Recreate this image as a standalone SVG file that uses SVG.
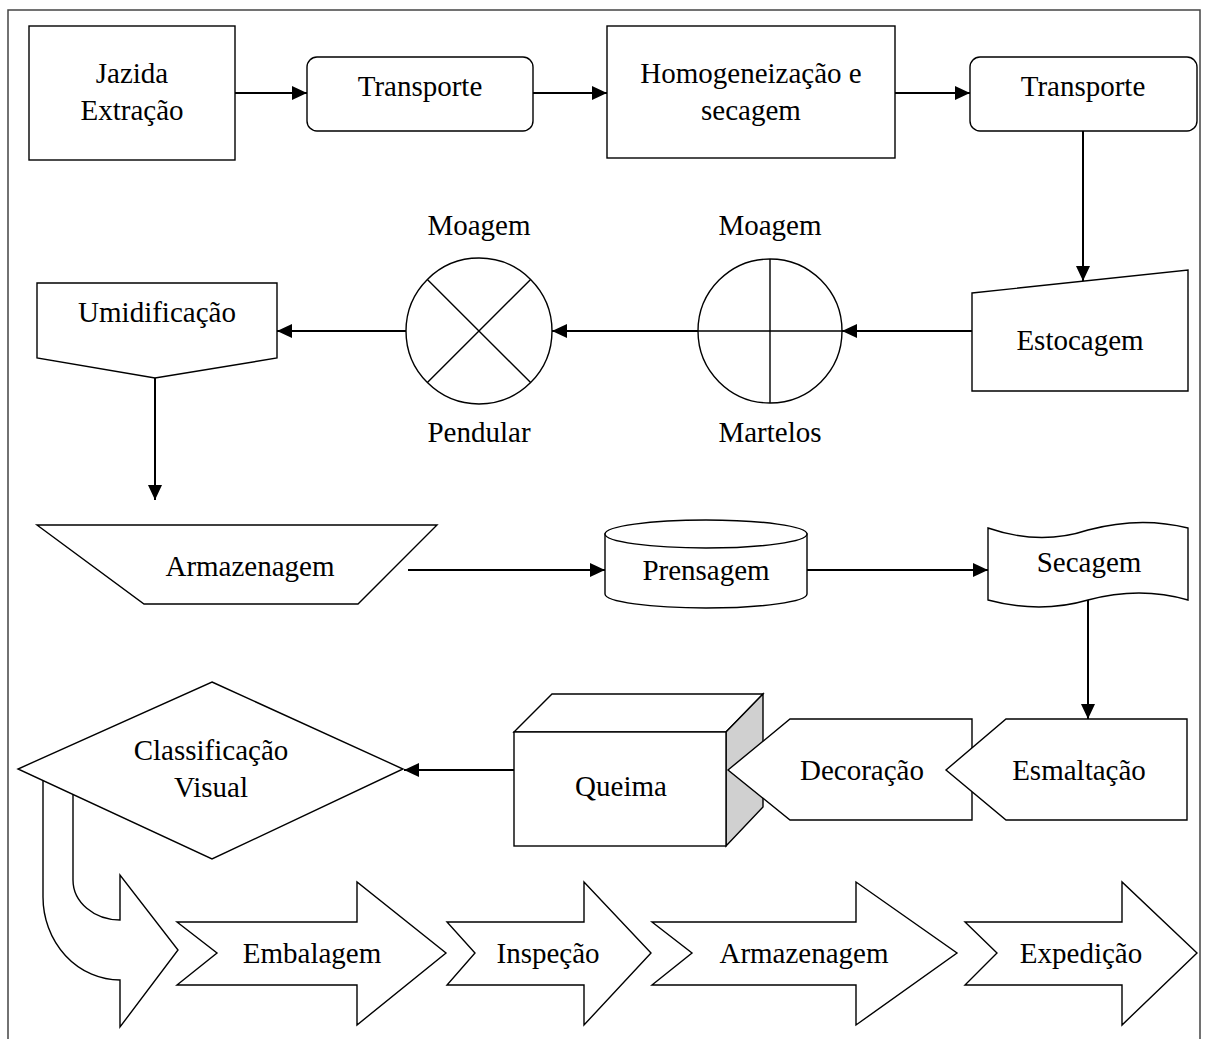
<svg xmlns="http://www.w3.org/2000/svg" width="1210" height="1039" viewBox="0 0 1210 1039">
<defs>
<marker id="ah" markerUnits="userSpaceOnUse" markerWidth="15" markerHeight="14" viewBox="0 0 15 14" refX="15" refY="7" orient="auto">
<path d="M0,0 L15,7 L0,14 z" fill="#000"/>
</marker>
<style>
.s{fill:#fff;stroke:#000;stroke-width:1.4}
.g{fill:#d0d0d0;stroke:#000;stroke-width:1.4}
.c{fill:none;stroke:#000;stroke-width:2;marker-end:url(#ah)}
.ln{fill:none;stroke:#000;stroke-width:1.4}
text{font-family:"Liberation Serif","Times New Roman",serif;font-size:29px;fill:#000;text-anchor:middle}
</style>
</defs>
<rect width="1210" height="1039" fill="#fff"/>
<g id="frame"><path d="M8,1039 L8,10 L1200,10 L1200,1039" fill="none" stroke="#444" stroke-width="1.5"/></g>

<g id="jazida"><rect class="s" x="29" y="26" width="206" height="134"/><text x="132" y="83">Jazida</text><text x="132" y="120">Extração</text></g>
<g id="transporte1"><rect class="s" x="307" y="57" width="226" height="74" rx="10"/><text x="420" y="96">Transporte</text></g>
<g id="homogeneizacao"><rect class="s" x="607" y="26" width="288" height="132"/><text x="751" y="83">Homogeneização e</text><text x="751" y="120">secagem</text></g>
<g id="transporte2"><rect class="s" x="970" y="57" width="227" height="74" rx="10"/><text x="1083" y="96">Transporte</text></g>
<g id="estocagem"><polygon class="s" points="972,293 1188,270 1188,391 972,391"/><text x="1080" y="350">Estocagem</text></g>
<g id="moagem-martelos"><circle class="s" cx="770" cy="331" r="72"/><path class="ln" d="M770,259 V403 M698,331 H842"/><text x="770" y="235">Moagem</text><text x="770" y="442">Martelos</text></g>
<g id="moagem-pendular"><circle class="s" cx="479" cy="331" r="73"/><path class="ln" d="M427.4,279.4 L530.6,382.6 M530.6,279.4 L427.4,382.6"/><text x="479" y="235">Moagem</text><text x="479" y="442">Pendular</text></g>
<g id="umidificacao"><polygon class="s" points="37,283 277,283 277,358 155,378 37,358"/><text x="157" y="322">Umidificação</text></g>
<g id="armazenagem1"><polygon class="s" points="37,525 437,525 358,604 144,604"/><text x="250" y="576">Armazenagem</text></g>
<g id="prensagem"><path class="s" d="M605,534 L605,594 A101,14 0 0 0 807,594 L807,534 Z"/><ellipse class="s" cx="706" cy="534" rx="101" ry="14"/><text x="706" y="580">Prensagem</text></g>
<g id="secagem"><path class="s" d="M988,528 Q1040,546 1088,530 Q1140,516 1188,528 L1188,600 Q1140,586 1088,600 Q1040,614 988,600 Z"/><text x="1089" y="572">Secagem</text></g>
<g id="queima"><polygon class="s" points="514,732 552,694 763,694 726,732"/><polygon class="g" points="726,732 763,694 763,807 726,846"/><rect class="s" x="514" y="732" width="212" height="114"/><text x="621" y="796">Queima</text></g>
<g id="decoracao"><polygon class="s" points="790,719 972,719 972,820 790,820 728,770"/><text x="862" y="780">Decoração</text></g>
<g id="esmaltacao"><polygon class="s" points="1006,719 1187,719 1187,820 1006,820 946,770"/><text x="1079" y="780">Esmaltação</text></g>
<g id="classificacao"><path class="s" d="M43,770 L43,897 A77,83 0 0 0 120,980 L120,1027 L178,950 L120,875 L120,920 A47,40 0 0 1 73,880 L73,770 Z"/><polygon class="s" points="212,682 403,769 212,859 18,769"/><text x="211" y="760">Classificação</text><text x="211" y="797">Visual</text></g>
<g id="embalagem"><polygon class="s" points="177,922 357,922 357,882 446,953 357,1025 357,985 177,985 217,953"/><text x="312" y="963">Embalagem</text></g>
<g id="inspecao"><polygon class="s" points="447,922 584,922 584,882 651,953 584,1025 584,985 447,985 475,953"/><text x="548" y="963">Inspeção</text></g>
<g id="armazenagem2"><polygon class="s" points="652,922 856,922 856,882 957,953 856,1025 856,985 652,985 692,953"/><text x="804" y="963">Armazenagem</text></g>
<g id="expedicao"><polygon class="s" points="965,922 1122,922 1122,882 1197,953 1122,1025 1122,985 965,985 997,953"/><text x="1081" y="963">Expedição</text></g>

<g id="connectors">
<line class="c" x1="235" y1="93" x2="307" y2="93"/>
<line class="c" x1="533" y1="93" x2="607" y2="93"/>
<line class="c" x1="895" y1="93" x2="970" y2="93"/>
<line class="c" x1="1083" y1="131" x2="1083" y2="281"/>
<line class="c" x1="972" y1="331" x2="842" y2="331"/>
<line class="c" x1="698" y1="331" x2="552" y2="331"/>
<line class="c" x1="406" y1="331" x2="277" y2="331"/>
<line class="c" x1="155" y1="378" x2="155" y2="500"/>
<line class="c" x1="408" y1="570" x2="605" y2="570"/>
<line class="c" x1="807" y1="570" x2="988" y2="570"/>
<line class="c" x1="1088" y1="600" x2="1088" y2="719"/>
<line class="c" x1="514" y1="770" x2="404" y2="770"/>
</g>
</svg>
